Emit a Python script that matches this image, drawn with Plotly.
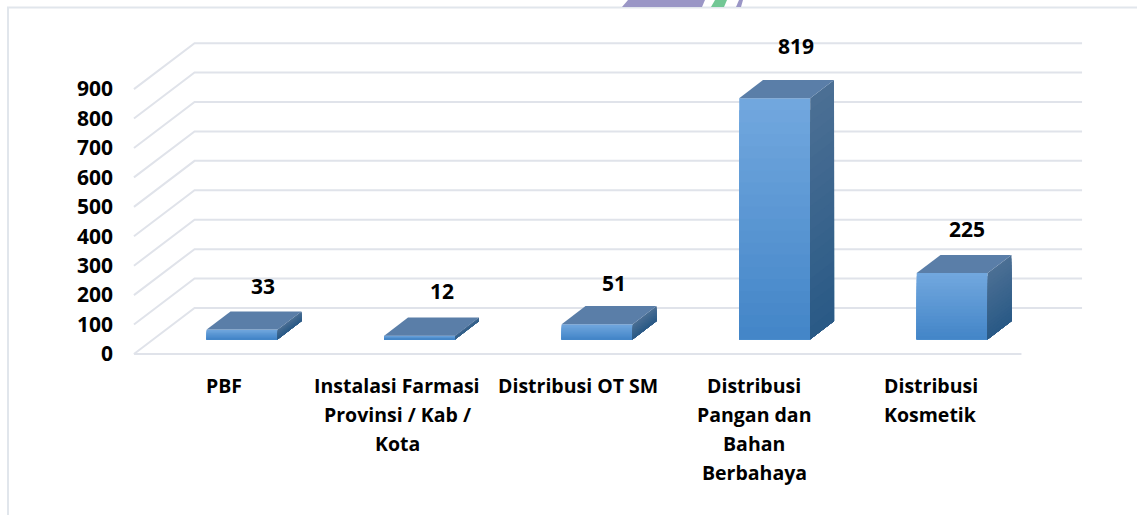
import plotly.graph_objects as go

categories = ["PBF", "Instalasi Farmasi Provinsi / Kab / Kota", "Distribusi OT SM",
              "Distribusi Pangan dan Bahan Berbahaya", "Distribusi Kosmetik"]
category_lines = [["PBF"], ["Instalasi Farmasi", "Provinsi / Kab /", "Kota"], ["Distribusi OT SM"],
                  ["Distribusi", "Pangan dan", "Bahan", "Berbahaya"], ["Distribusi", "Kosmetik"]]
values = [33, 12, 51, 819, 225]
y_ticks = [0, 100, 200, 300, 400, 500, 600, 700, 800, 900]

W, H = 1137, 515
L, R, T, B = 114, 1120, 20, 370
X0, XU = 222.7, 177.5      # pixels of category 0 on the front plane, pixels per category
Y0, YU = 354.0, 0.2943     # pixels of value 0 on the front plane, pixels per value
DX, DY = 60.6 / XU, 46.0 / YU   # depth of the 3D box in axis units
Z0, Z1 = 0.322, 0.715      # front and back depth of bars
BW = 71.0 / XU
NUM_FONT = dict(family="Open Sans, Noto Sans, sans-serif", size=21, color="#000000", weight=700)
CAT_FONT = dict(family="Open Sans, Noto Sans, sans-serif", size=19.5, color="#000000", weight=700)
GRID = "#e0e3ea"
N = 20

label_lift = [43, 45, 41.5, 52, 44]
label_dx = [21, 22, 17, 21, 15]
cat_dx = [1, -3, 0, -1, -2]


def mix(a, b, t):
    pa = [int(a[i:i + 2], 16) for i in (1, 3, 5)]
    pb = [int(b[i:i + 2], 16) for i in (1, 3, 5)]
    return "#" + "".join(f"{round(p + (q - p) * t):02x}" for p, q in zip(pa, pb))


def px(x):
    return (x - L) / (R - L)


def py(y):
    return (B - y) / (B - T)


fig = go.Figure()
base = Z0 * DY
xs = [i + Z0 * DX for i in range(len(values))]

# front faces: nested bars give a vertical gradient for every bar
for k in range(N):
    t = k / (N - 1)
    c = mix("#71a7de", "#4486c8", t)
    fig.add_trace(go.Bar(x=xs, y=[v * (1 - k / N) for v in values], base=base, width=BW,
                         marker=dict(color=c, line=dict(width=0)), hoverinfo="skip", showlegend=False))

# side faces
for i, v in enumerate(values):
    xf = i + Z0 * DX + BW / 2
    xb = i + Z1 * DX + BW / 2
    d = (Z1 - Z0) * DY
    for k in range(N):
        t = k / (N - 1)
        c = mix("#4b6f94", "#2a5a86", t)
        top = base + v * (1 - k / N)
        fig.add_trace(go.Scatter(x=[xf, xb, xb, xf, xf], y=[base, base + d, top + d, top, base],
                                 mode="lines", fill="toself", fillcolor=c, line=dict(width=0),
                                 hoverinfo="skip", showlegend=False))
    # top face
    xl = i + Z0 * DX - BW / 2
    xl2 = i + Z1 * DX - BW / 2
    top = base + v
    fig.add_trace(go.Scatter(x=[xl, xf, xb, xl2, xl], y=[top, top, top + d, top + d, top],
                             mode="lines", fill="toself", fillcolor="#5a7ea8", line=dict(width=0),
                             hoverinfo="skip", showlegend=False))

# gridlines on wall and left side of the 3D box
shapes = []
x_left, x_right = -0.5, 4.5
for t in y_ticks:
    shapes.append(dict(type="path", layer="below", xref="x", yref="y",
                       path=f"M {x_left} {t} L {x_left + DX} {t + DY} L {x_right + DX} {t + DY}",
                       line=dict(color=GRID, width=2)))
shapes.append(dict(type="line", layer="below", xref="x", yref="y", x0=x_left, y0=0, x1=x_right, y1=0,
                   line=dict(color=GRID, width=2)))

# page frame and the cropped logo at the top edge
shapes.append(dict(type="path", layer="below", xref="paper", yref="paper",
                   path=f"M {px(8)} {py(515)} L {px(8)} {py(7.5)} L {px(1137)} {py(7.5)}",
                   line=dict(color="#e1e6ec", width=2)))
for pts, col in [([(622, 7), (628, 0), (705, 0), (702, 7)], "#9a96c6"),
                 ([(711, 7), (715, 0), (727, 0), (724, 7)], "#72c795"),
                 ([(736, 7), (739, 0), (743, 0), (741, 7)], "#9a96c6")]:
    path = "M " + " L ".join(f"{px(a)} {py(b)}" for a, b in pts) + " Z"
    shapes.append(dict(type="path", layer="below", xref="paper", yref="paper", path=path,
                       fillcolor=col, line=dict(width=0)))

annotations = []
for i, v in enumerate(values):
    annotations.append(dict(x=xs[i], y=base + v, xref="x", yref="y", text=str(v), showarrow=False,
                            xshift=label_dx[i], yshift=label_lift[i], font=NUM_FONT,
                            xanchor="center", yanchor="middle"))
for i, lines in enumerate(category_lines):
    for j, line in enumerate(lines):
        annotations.append(dict(x=i, y=py(385 + 29 * j), xref="x", yref="paper", text=line, showarrow=False,
                                xshift=cat_dx[i], font=CAT_FONT, xanchor="center", yanchor="middle"))

fig.update_layout(
    width=W, height=H, autosize=False,
    margin=dict(l=L, r=W - R, t=T, b=H - B, pad=0, autoexpand=False),
    paper_bgcolor="#ffffff", plot_bgcolor="#ffffff",
    barmode="overlay", showlegend=False, shapes=shapes, annotations=annotations, font=NUM_FONT,
    xaxis=dict(range=[(L - X0) / XU, (R - X0) / XU], showgrid=False, zeroline=False, showline=False,
               showticklabels=False, ticks=""),
    yaxis=dict(range=[(Y0 - B) / YU, (Y0 - T) / YU], tickmode="array", tickvals=y_ticks,
               ticktext=[str(t) for t in y_ticks], showgrid=False, zeroline=False, showline=False,
               ticks="", tickfont=NUM_FONT),
)

fig.write_html("out.html", config={"displayModeBar": False},
               post_script="document.body.style.margin='0';document.body.style.overflow='hidden';")
